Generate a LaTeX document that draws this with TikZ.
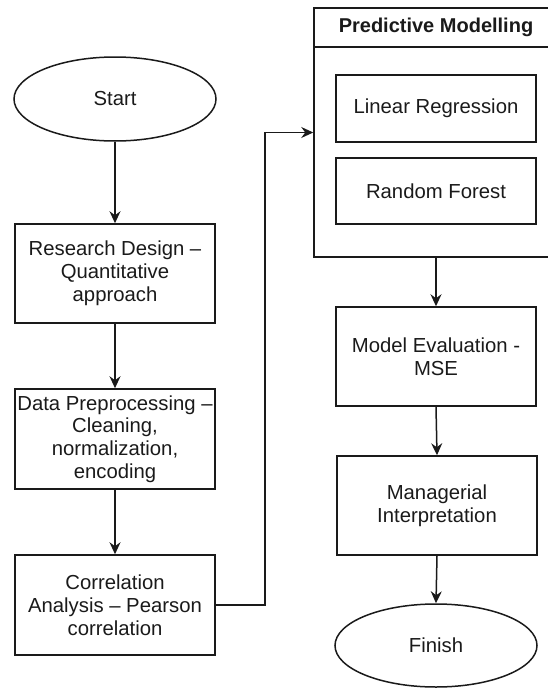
\documentclass[tikz,border=0pt]{standalone}
\usepackage{fontspec}
\setmainfont{Liberation Sans}
\usepackage{tikz}
\usetikzlibrary{arrows.meta,positioning,shapes.geometric}
\definecolor{flowink}{HTML}{1A1A1A}

\begin{document}
\begin{tikzpicture}[
  x=1pt, y=-1pt,
  font=\fontsize{20.3}{22.8}\selectfont,
  proc/.style={draw=flowink, line width=1.5pt, text=flowink, minimum width=200pt, minimum height=99pt, align=center, inner sep=2pt},
  term/.style={ellipse, draw=flowink, line width=1.5pt, text=flowink, minimum width=202pt, minimum height=84pt, inner sep=0pt},
  pool/.style={draw=flowink, line width=1.5pt, minimum width=244pt, minimum height=249pt},
  pooltitle/.style={draw=flowink, line width=1.5pt, text=flowink, minimum width=244pt, minimum height=39pt, font=\fontsize{20}{22.8}\selectfont\bfseries},
  flow/.style={-{Stealth[length=12pt, width=11pt, inset=4pt]}, draw=flowink, line width=1.5pt},
]
\useasboundingbox (0,0) rectangle (548,688);
\node[term] (start) at (115,99) {Start};
\node[proc] (rd) at (115,273.5) {Research Design –\\Quantitative\\approach};
\node[proc, minimum height=100pt] (dp) at (115,439) {Data Preprocessing –\\Cleaning,\\normalization,\\encoding};
\node[proc, minimum height=100pt] (ca) at (115,605) {Correlation\\Analysis – Pearson\\correlation};
\node[pool] (pm) at (436,132.5) {};
\node[pooltitle, anchor=north] (pmt) at (pm.north) {Predictive Modelling};
\node[proc, minimum height=67pt] (lr) at (436,108.5) {Linear Regression};
\node[proc, minimum height=66pt] (rf) at (436,191) {Random Forest};
\node[proc] (me) at (436,356.5) {Model Evaluation -\\MSE};
\node[proc] (mi) at (437,505.5) {Managerial\\Interpretation};
\node[term, minimum height=83pt] (fin) at (436,645.5) {Finish};
\foreach \a/\b in {start/rd, rd/dp, dp/ca, me/mi} \draw[flow] (\a.south) -- (\b.north);
\draw[flow] (pm.south) -- (pm.south |- me.north);
\draw[flow] (mi.south) -- (fin.north);
\draw[flow] (ca.east) -- ++(49,0) |- (pm.west);
\end{tikzpicture}
\end{document}
